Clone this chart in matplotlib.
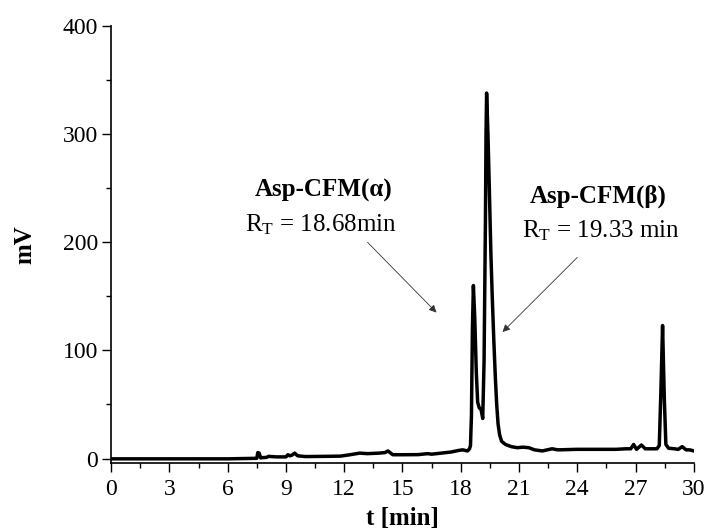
import matplotlib
matplotlib.use("Agg")
import matplotlib.pyplot as plt
from matplotlib.ticker import MultipleLocator

plt.rcParams['font.family'] = ['Liberation Serif', 'DejaVu Serif']
plt.rcParams['mathtext.fontset'] = 'custom'
plt.rcParams['mathtext.rm'] = 'Liberation Serif'
plt.rcParams['mathtext.it'] = 'Liberation Serif'

# chromatogram trace (time in min, signal in mV)
t_min = [0.0, 2.0, 4.0, 6.0, 7.5, 7.55, 7.62, 7.7, 7.75, 8.0, 8.1, 8.5, 9.0, 9.1, 9.2, 9.3,
         9.45, 9.6, 10.0, 11.0, 11.8, 12.3, 12.8, 13.2, 13.8, 14.1, 14.25, 14.5, 15.0,
         15.8, 16.3, 16.5, 17.0, 17.5, 17.9, 18.1, 18.35, 18.45, 18.5, 18.55, 18.6,
         18.65, 18.72, 18.8, 18.87, 18.95, 19.05, 19.13, 19.2, 19.27, 19.3, 19.33,
         19.4, 19.47, 19.55, 19.62, 19.7, 19.78, 19.85, 19.92, 20.0, 20.1, 20.3, 20.6,
         20.9, 21.2, 21.5, 21.8, 22.2, 22.7, 23.0, 24.0, 25.0, 26.0, 26.5, 26.75,
         26.9, 27.05, 27.3, 27.5, 27.8, 28.1, 28.22, 28.3, 28.39, 28.48, 28.56, 28.7,
         29.0, 29.2, 29.4, 29.6, 29.8, 30.0]
signal_mv = [-0.3, -0.3, -0.3, -0.3, 0.2, 5.5, 5.0, 0.5, 0.8, 1.0, 2.0, 1.5, 1.5, 3.5, 2.5, 3.0,
             5.0, 2.5, 1.8, 2.0, 2.2, 3.5, 5.0, 4.5, 5.0, 5.5, 7.0, 3.5, 3.5,
             3.6, 4.5, 4.0, 5.0, 6.0, 7.5, 8.0, 7.0, 9.0, 12.0, 40.0, 120.0,
             160.0, 130.0, 80.0, 52.0, 47.0, 45.0, 37.0, 90.0, 220.0, 300.0, 338.0,
             300.0, 250.0, 190.0, 150.0, 110.0, 75.0, 50.0, 32.0, 22.0, 16.0, 13.0, 11.0,
             10.0, 10.5, 10.0, 8.0, 7.0, 9.0, 8.0, 8.5, 8.5, 8.5, 9.0, 9.0,
             13.0, 8.5, 12.5, 9.0, 9.0, 9.0, 12.0, 60.0, 123.0, 55.0, 13.0, 9.5,
             9.0, 8.5, 11.0, 8.0, 8.0, 7.0]

# peak labels: title, retention-time line, text anchor, arrow tail, arrow tip
peak_titles = ['Asp-CFM(\u03b1)', 'Asp-CFM(\u03b2)']
peak_rt = [r'R$_{\mathregular{T}}$ = 18.68min', r'R$_{\mathregular{T}}$ = 19.33 min']
title_xy = [(10.95, 248), (25.1, 243)]
rt_xy = [(10.8, 216), (25.2, 211)]
arrow_from = [(13.2, 200), (24.0, 186)]
arrow_to = [(16.75, 135), (20.15, 117)]

fig = plt.figure(figsize=(7.08, 5.32), dpi=100)
ax = fig.add_axes([0.157, 0.13, 0.823, 0.821])

ax.plot(t_min, signal_mv, color='black', lw=2.5, solid_joinstyle='round')

for title, rt, txy, rxy, a0, a1 in zip(peak_titles, peak_rt, title_xy, rt_xy,
                                        arrow_from, arrow_to):
    ax.text(*txy, title, ha='center', va='center', fontsize=18, fontweight='bold')
    ax.text(*rxy, rt, ha='center', va='center', fontsize=18)
    ax.annotate('', xy=a1, xytext=a0,
                arrowprops=dict(arrowstyle='-|>', color='#333333', lw=0.6,
                                mutation_scale=11, shrinkA=0, shrinkB=0))

ax.set_xlim(0, 30)
ax.set_ylim(-4, 400)
ax.spines['top'].set_visible(False)
ax.spines['right'].set_visible(False)
for s in ['left', 'bottom']:
    ax.spines[s].set_linewidth(1.2)

ax.xaxis.set_major_locator(MultipleLocator(3))
ax.xaxis.set_minor_locator(MultipleLocator(1.5))
ax.yaxis.set_major_locator(MultipleLocator(100))
ax.yaxis.set_minor_locator(MultipleLocator(50))
ax.tick_params(which='major', direction='out', length=6.5, width=1.0,
               labelsize=17, pad=3)
ax.tick_params(axis='x', which='major', pad=5)
ax.tick_params(which='minor', direction='out', length=3.6, width=1.0)

ax.set_xlabel('t [min]', fontsize=18, fontweight='bold', labelpad=5)
ax.set_ylabel('mV', fontsize=18, fontweight='bold', labelpad=19)

fig.savefig('out.png', dpi=100)
